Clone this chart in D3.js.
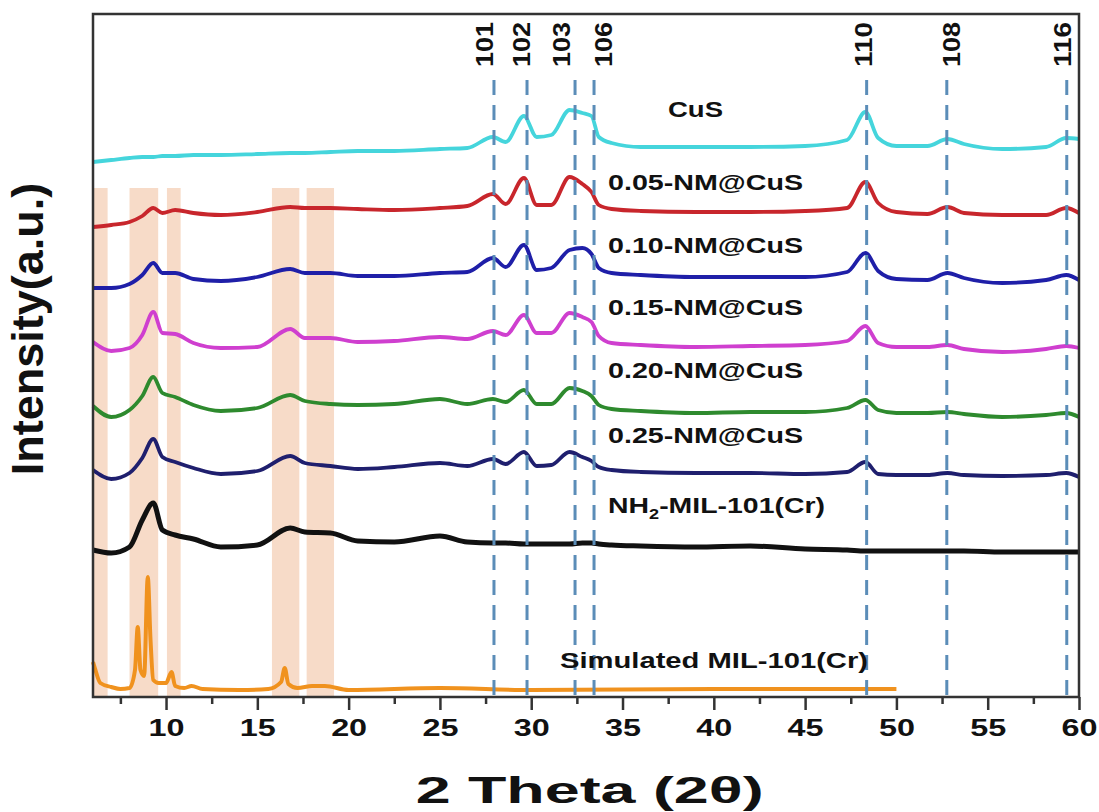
<!DOCTYPE html>
<html>
<head>
<meta charset="utf-8">
<script src="https://cdn.jsdelivr.net/npm/d3@7"></script>
<style>
  body { margin: 0; background: #fff; }
  text { font-family: "Liberation Sans", Arial, sans-serif; font-weight: bold; fill: #111; }
</style>
</head>
<body>
<div id="chart"></div>
<script>
// ---- data ----
// common 2-theta grid for the measured patterns
const twoTheta = [6, 7, 8, 8.7, 9.3, 9.8, 10.5, 11.5, 13, 15, 16.8, 17.6, 19, 20.5, 22.5, 25, 26.5, 27.9, 28.6, 29.6,
  30.3, 31.1, 32.1, 32.8, 33.3, 33.7, 34.4, 36, 39, 42, 45, 47.3, 48.3, 49, 50, 51.7, 52.8, 53.7, 55.8, 58.2, 59.3, 60];

const cus = [535, 537, 539, 540, 540, 541, 541, 542, 542, 543, 544, 544, 545, 546, 546, 548, 549, 560, 555, 581,
  560, 562, 587, 584, 581, 560, 554, 550, 550, 550, 551, 557, 585, 559, 551, 551, 558, 553, 548, 550, 559, 558];
const nm005 = [470, 472, 475, 481, 489, 484, 487, 484, 482, 485, 490, 489, 489, 488, 487, 489, 491, 503, 493, 519,
  492, 492, 520, 513, 505, 492, 488, 486, 485, 485, 486, 489, 515, 494, 485, 483, 490, 484, 482, 482, 489, 484];
const nm010 = [409, 409, 413, 422, 434, 424, 424, 418, 416, 420, 428, 424, 424, 421, 421, 424, 425, 439, 430, 452,
  427, 429, 447, 449, 443, 429, 424, 422, 420, 420, 420, 425, 444, 426, 418, 417, 424, 419, 414, 417, 422, 417];
const nm015 = [355, 346, 349, 362, 385, 364, 363, 354, 349, 350, 368, 359, 359, 355, 356, 360, 358, 366, 362, 382,
  364, 364, 384, 380, 375, 361, 354, 352, 350, 351, 352, 356, 371, 354, 350, 350, 352, 348, 345, 348, 351, 349];
const nm020 = [291, 280, 287, 301, 320, 304, 300, 292, 286, 289, 302, 296, 293, 292, 293, 298, 293, 298, 295, 307,
  293, 293, 309, 306, 301, 292, 288, 286, 284, 285, 285, 289, 297, 287, 284, 284, 285, 283, 280, 282, 284, 280];
const nm025 = [227, 218, 224, 239, 258, 240, 235, 229, 223, 226, 241, 234, 231, 228, 230, 234, 231, 238, 233, 245,
  231, 232, 245, 240, 236, 230, 227, 225, 224, 224, 223, 225, 235, 223, 222, 222, 224, 222, 221, 222, 224, 220];
const mil101 = [147, 144, 150, 177, 194, 167, 162, 158, 150, 152, 169, 165, 164, 156, 155, 161, 155, 154, 154, 153,
  153, 153, 153, 154, 154, 153, 152, 151, 150, 151, 148, 147, 146, 146, 146, 146, 146, 146, 145, 145, 145, 145];

// simulated pattern has its own grid (ends at 50 deg)
const simTheta = [6.0, 6.1, 6.4, 7.0, 7.5, 8.0, 8.3, 8.45, 8.6, 8.8, 9.0, 9.15, 9.3, 9.6, 10.0, 10.3, 10.5, 11.0, 11.4, 12,
  14, 15.6, 16.3, 16.5, 16.7, 17.2, 18, 18.7, 20, 25, 30, 40, 50];
const simulated = [35, 29, 14, 10, 8, 9, 27, 70, 27, 21, 120, 57, 17, 14, 14, 25, 11, 9, 11, 8,
  7, 8, 15, 29, 13, 9, 11, 11, 7, 9, 7, 8, 8];

const seriesNames = ["CuS", "0.05-NM@CuS", "0.10-NM@CuS", "0.15-NM@CuS", "0.20-NM@CuS", "0.25-NM@CuS", "NH2-MIL-101(Cr)"];
const seriesValues = [cus, nm005, nm010, nm015, nm020, nm025, mil101];
const seriesColors = ["#45d5dc", "#c8262c", "#1f1fa8", "#cf3fcf", "#2e8a2e", "#1f1f6e", "#111111"];

// CuS reflections (2-theta) and their hkl labels
const hklTheta = [27.96, 29.77, 32.4, 33.44, 48.37, 52.76, 59.33];
const hklLabels = ["101", "102", "103", "106", "110", "108", "116"];
const hklLabelAt = [27.47, 29.5, 31.69, 33.99, 48.23, 53.05, 59.12];

// shaded MIL-101 regions (2-theta ranges)
const bands = [[6.0, 6.8], [8.0, 9.57], [10.05, 10.8], [15.8, 17.3], [17.7, 19.2]];

const majorTicks = [10, 15, 20, 25, 30, 35, 40, 45, 50, 55, 60];
const minorTicks = [7.5, 12.5, 17.5, 22.5, 27.5, 32.5, 37.5, 42.5, 47.5, 52.5, 57.5];

// ---- chart setup ----
const svgWidth = 1099, svgHeight = 812;
const margin = {top: 14, right: 20, bottom: 115, left: 93};
const width = svgWidth - margin.left - margin.right;
const height = svgHeight - margin.top - margin.bottom;

const svg = d3.select('#chart').append('svg')
  .attr('width', svgWidth)
  .attr('height', svgHeight);

const g = svg.append('g')
  .attr('transform', `translate(${margin.left},${margin.top})`);

const x = d3.scaleLinear().domain([6, 60]).range([0, width]);
const y = d3.scaleLinear().domain([0, 683]).range([height, 0]);

// shaded bands
g.selectAll('.band').data(bands).enter().append('rect')
  .attr('class', 'band')
  .attr('x', d => x(d[0]))
  .attr('width', d => x(d[1]) - x(d[0]))
  .attr('y', y(509))
  .attr('height', height - y(509))
  .attr('fill', '#f7dbc8');

// patterns
const line = d3.line()
  .x(d => x(d[0]))
  .y(d => y(d[1]))
  .curve(d3.curveMonotoneX);

g.append('path')
  .datum(simTheta.map((t, i) => [t, simulated[i]]))
  .attr('d', line)
  .attr('fill', 'none')
  .attr('stroke', '#f0921e')
  .attr('stroke-width', 4)
  .attr('stroke-linejoin', 'round');

seriesValues.forEach((vals, k) => {
  g.append('path')
    .datum(twoTheta.map((t, i) => [t, vals[i]]))
    .attr('d', line)
    .attr('fill', 'none')
    .attr('stroke', seriesColors[k])
    .attr('stroke-width', k === 6 ? 5 : 3.8)
    .attr('stroke-linejoin', 'round');
});

// dashed reflection lines
g.selectAll('.hkl').data(hklTheta).enter().append('line')
  .attr('x1', d => x(d)).attr('x2', d => x(d))
  .attr('y1', 66).attr('y2', height)
  .attr('stroke', '#5b8db8')
  .attr('stroke-width', 3)
  .attr('stroke-dasharray', '15 10');

g.selectAll('.hkllab').data(hklLabels).enter().append('text')
  .attr('transform', (d, i) => `translate(${x(hklLabelAt[i]) + 8},53) rotate(-90)`)
  .attr('font-size', 24)
  .attr('textLength', 45)
  .attr('lengthAdjust', 'spacingAndGlyphs')
  .text(d => d);

// series labels
const labelPos = [[575, 103, 55], [515, 176, 195], [515, 239, 195], [515, 301, 195], [515, 364, 195], [515, 429, 195]];
labelPos.forEach((p, i) => {
  g.append('text')
    .attr('x', p[0]).attr('y', p[1])
    .attr('font-size', 22)
    .attr('textLength', p[2])
    .attr('lengthAdjust', 'spacingAndGlyphs')
    .text(seriesNames[i]);
});

const nh2 = g.append('text')
  .attr('x', 515).attr('y', 499)
  .attr('font-size', 22)
  .attr('textLength', 217)
  .attr('lengthAdjust', 'spacingAndGlyphs');
nh2.append('tspan').text('NH');
nh2.append('tspan').attr('font-size', 14).attr('dy', 6).text('2');
nh2.append('tspan').attr('dy', -6).text('-MIL-101(Cr)');

g.append('text')
  .attr('x', 467).attr('y', 654)
  .attr('font-size', 22)
  .attr('textLength', 308)
  .attr('lengthAdjust', 'spacingAndGlyphs')
  .text('Simulated MIL-101(Cr)');

// axes
const xAxis = g.append('g')
  .attr('transform', `translate(0,${height})`)
  .call(d3.axisBottom(x).tickValues(majorTicks).tickSize(13).tickPadding(9).tickSizeOuter(0));
xAxis.select('.domain').remove();
xAxis.selectAll('line').attr('stroke', '#333').attr('stroke-width', 2.5);
xAxis.selectAll('text')
  .attr('font-size', 24)
  .attr('fill', '#111')
  .attr('textLength', 36)
  .attr('lengthAdjust', 'spacingAndGlyphs')
  .style('font-family', '"Liberation Sans", Arial, sans-serif')
  .style('font-weight', 'bold');

const xMinor = g.append('g')
  .attr('transform', `translate(0,${height})`)
  .call(d3.axisBottom(x).tickValues(minorTicks).tickSize(7).tickFormat(''));
xMinor.select('.domain').remove();
xMinor.selectAll('line').attr('stroke', '#333').attr('stroke-width', 2.5);

// frame: bottom, left, top, right
g.append('path')
  .attr('d', `M0,0V${height}H${width}V0Z`)
  .attr('fill', 'none')
  .attr('stroke', '#333')
  .attr('stroke-width', 2.5);

// axis titles
svg.append('text')
  .attr('x', margin.left + x(33.2)).attr('y', 803)
  .attr('text-anchor', 'middle')
  .attr('font-size', 36)
  .attr('textLength', 348)
  .attr('lengthAdjust', 'spacingAndGlyphs')
  .text('2 Theta (2θ)');

svg.append('text')
  .attr('transform', 'translate(43,329) rotate(-90)')
  .attr('text-anchor', 'middle')
  .attr('font-size', 45)
  .text('Intensity(a.u.)');
</script>
</body>
</html>
